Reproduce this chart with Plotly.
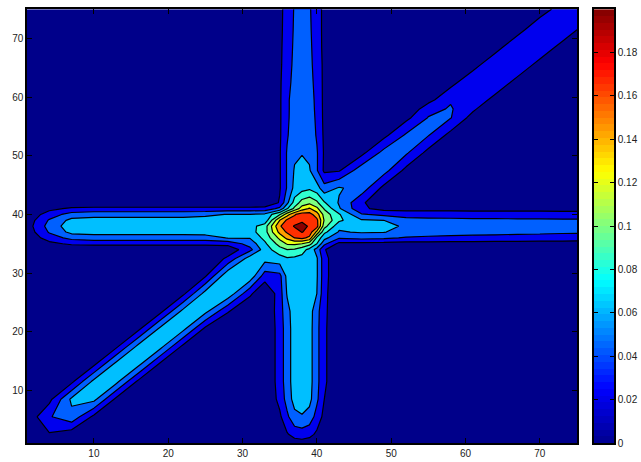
import numpy as np
import plotly.graph_objects as go

FONT = "Liberation Sans"

# Grid nodes (data units)
xs = [1,4,7,10,13,16,19,22,25,28,31,33,35,36,37,38,39,40,41,43,46,49,52,55,58,61,64,67,70,73,75]
ys = [1,2.5,5.5,8.5,11.5,14.5,17.5,20.5,23.5,26.5,29.5,32.5,34,35,36,37,38,39,40,41,42,
      44.5,47.5,50.5,53.5,56.5,58,59.5,62.5,65.5,68.5,71.5,75]

# Values in thousandths, one row per y node, one column per x node
z_thousandths = [
 [0,3,0,0,0,0,0,0,0,0,0, 0,0,5,10,12,10,5,0,0, 0,0,0,0,0,0,0,0,0,0,0],
 [0,18,8,0,0,0,0,0,0,0,0, 0,8,18,28,30,26,16,6,0, 0,0,0,0,0,0,0,0,0,0,0],
 [5,38,54,15,0,0,0,0,0,0,0, 0,16,36,54,58,52,32,14,0, 0,0,0,0,0,0,0,0,0,0,0],
 [0,14,64,66,15,0,0,0,0,0,0, 0,26,48,68,72,66,44,20,0, 0,0,0,0,0,0,0,0,0,0,0],
 [0,0,15,66,66,15,0,0,0,0,0, 0,29,51,70,74,68,46,24,0, 0,0,0,0,0,0,0,0,0,0,0],
 [0,0,0,15,66,66,15,0,0,0,0, 0,29,51,70,74,68,46,24,0, 0,0,0,0,0,0,0,0,0,0,0],
 [0,0,0,0,15,66,66,15,0,0,0, 0,29,51,70,74,68,46,24,0, 0,0,0,0,0,0,0,0,0,0,0],
 [0,0,0,0,0,15,66,66,15,0,0, 0,29,51,70,74,68,46,24,0, 0,0,0,0,0,0,0,0,0,0,0],
 [0,0,0,0,0,0,15,66,66,22,0, 0,31,53,71,75,69,47,25,0, 0,0,0,0,0,0,0,0,0,0,0],
 [0,0,0,0,0,0,0,15,68,75,24, 0,30,62,74,76,72,60,26,0, 0,0,0,0,0,0,0,0,0,0,0],
 [0,0,0,0,0,0,0,0,18,76,74, 30,34,66,75,77,74,62,28,0, 0,0,0,0,0,0,0,0,0,0,0],
 [0,0,0,0,0,0,0,0,0,24,70, 68,72,78,76,74,68,62,28,0, 0,0,0,0,0,0,0,0,0,0,0],
 [0,0,0,0,0,0,0,0,0,6,34, 70,92,100,98,88,74,52,22,0, 0,0,0,0,0,0,0,0,0,0,0],
 [0,14,24,26,26,26,26,26,26,26,48, 76,108,122,124,120,108,80,45,14, 14,13,12,12,12,12,12,12,12,13,13],
 [4,30,46,50,50,50,50,50,50,61,61, 86,125,145,160,165,155,95,66,42, 46,44,38,36,34,33,32,31,30,28,27],
 [8,42,66,68,68,68,68,68,70,71,72, 92,146,163,170,181,172,135,85,58, 62,61,52,50,49,48,47,46,45,44,44],
 [10,48,71,72,72,72,72,72,74,74,72, 90,158,170,182,197,174,168,108,65, 68,66,57,56,55,54,53,52,51,50,50],
 [8,42,66,68,68,68,68,68,72,72,70, 66,140,164,170,172,172,165,118,84, 62,60,48,47,46,45,45,44,44,43,43],
 [4,30,48,52,52,52,52,52,54,61,61, 64,98,132,158,170,168,150,112,82, 42,35,30,29,29,28,28,28,28,27,27],
 [0,14,24,26,26,26,26,26,26,26,26, 28,45,78,105,130,142,125,98,62, 24,13,14,14,14,14,14,14,14,14,14],
 [0,0,0,0,0,0,0,0,0,0,0, 0,22,55,88,108,115,104,82,58, 24,0,0,0,0,0,0,0,0,0,0],
 [0,0,0,0,0,0,0,0,0,0,0, 0,18,42,66,72,76,68,48,62, 52,14,0,0,0,0,0,0,0,0,0],
 [0,0,0,0,0,0,0,0,0,0,0, 0,18,42,62,66,62,42,16,18, 52,48,14,0,0,0,0,0,0,0,0],
 [0,0,0,0,0,0,0,0,0,0,0, 0,18,42,56,59,56,42,17,0, 14,47,43,13,0,0,0,0,0,0,0],
 [0,0,0,0,0,0,0,0,0,0,0, 0,17,38,52,57,52,38,16,0, 0,14,43,41,13,0,0,0,0,0,0],
 [0,0,0,0,0,0,0,0,0,0,0, 0,17,36,51,56,51,36,15,0, 0,0,14,41,41,12,0,0,0,0,0],
 [0,0,0,0,0,0,0,0,0,0,0, 0,17,36,50,55,50,35,15,0, 0,0,0,33,42,24,0,0,0,0,0],
 [0,0,0,0,0,0,0,0,0,0,0, 0,17,36,50,55,50,34,15,0, 0,0,0,13,38,36,12,0,0,0,0],
 [0,0,0,0,0,0,0,0,0,0,0, 0,17,33,47,53,47,33,15,0, 0,0,0,0,13,36,36,12,0,0,0],
 [0,0,0,0,0,0,0,0,0,0,0, 0,16,31,45,52,45,32,15,0, 0,0,0,0,0,12,36,36,12,0,0],
 [0,0,0,0,0,0,0,0,0,0,0, 0,16,29,44,51,44,31,14,0, 0,0,0,0,0,0,12,36,36,12,0],
 [0,0,0,0,0,0,0,0,0,0,0, 0,16,27,43,50,43,30,14,0, 0,0,0,0,0,0,0,12,36,36,20],
 [0,0,0,0,0,0,0,0,0,0,0, 0,16,26,42,50,42,30,14,0, 0,0,0,0,0,0,0,0,9,30,36],
]

# Band colours, low to high, one per contour interval
band_colors = ["#00008a", "#0000ee", "#0060ff", "#00bfff", "#30ffd0",
               "#80ff80", "#e8ff10", "#ffa000", "#ff3000", "#8a0000"]

main_ticks = [10, 20, 30, 40, 50, 60, 70]
cbar_ticks = [0, 0.02, 0.04, 0.06, 0.08, 0.1, 0.12, 0.14, 0.16, 0.18]
cbar_labels = ["0", "0.02", "0.04", "0.06", "0.08", "0.1", "0.12", "0.14", "0.16", "0.18"]
jet_stops = [[0, "rgb(0,0,143)"], [0.125, "rgb(0,0,255)"], [0.375, "rgb(0,255,255)"],
             [0.625, "rgb(255,255,0)"], [0.875, "rgb(255,0,0)"], [1, "rgb(128,0,0)"]]

z = np.array(z_thousandths, dtype=float) / 1000.0
n_bands = len(band_colors)
band_scale = [[i / (n_bands - 1), c] for i, c in enumerate(band_colors)]

bar_edges = np.linspace(0, 0.2, 65)
bar_centers = (bar_edges[:-1] + bar_edges[1:]) / 2

fig = go.Figure()
fig.add_trace(go.Contour(
    x=xs, y=ys, z=z,
    autocontour=False,
    contours=dict(start=0.02, end=0.18, size=0.02, coloring="fill", showlines=True),
    line=dict(color="black", width=1.2, smoothing=0),
    colorscale=band_scale, showscale=False, hoverinfo="skip",
))
fig.add_trace(go.Heatmap(
    x=[0, 1], y=bar_centers, z=[[v, v] for v in bar_centers],
    colorscale=jet_stops, zmin=0, zmax=0.2, showscale=False, xaxis="x2", yaxis="y2",
    hoverinfo="skip",
))

W, H = 641, 462
dom_y = [(H - 449) / H, (H - 9.3) / H]
tickfont = dict(family=FONT, size=10, color="#222222")
common = dict(showgrid=False, zeroline=False, showline=True, linecolor="black",
              linewidth=1.5, mirror="allticks", ticks="inside", ticklen=5,
              tickcolor="black", tickwidth=1, tickfont=tickfont)
fig.update_layout(
    width=W, height=H, margin=dict(l=0, r=0, t=0, b=0),
    paper_bgcolor="white", plot_bgcolor="white", showlegend=False,
    xaxis=dict(domain=[27 / W, 577 / W], range=[1, 75], tickvals=main_ticks, **common),
    yaxis=dict(domain=dom_y, range=[1, 75], tickvals=main_ticks, **common),
    xaxis2=dict(domain=[594 / W, 614 / W], range=[0, 1], anchor="y2", showticklabels=False,
                showgrid=False, zeroline=False, ticks="", showline=True, linecolor="black",
                linewidth=1.5, mirror=True),
    yaxis2=dict(domain=dom_y, range=[0, 0.2], anchor="x2", side="right",
                tickvals=cbar_ticks, ticktext=cbar_labels, **{**common, "ticklen": 4}),
)
fig.write_html("out.html", config={"displayModeBar": False},
               post_script="document.body.style.margin='0';document.body.style.overflow='hidden';")
